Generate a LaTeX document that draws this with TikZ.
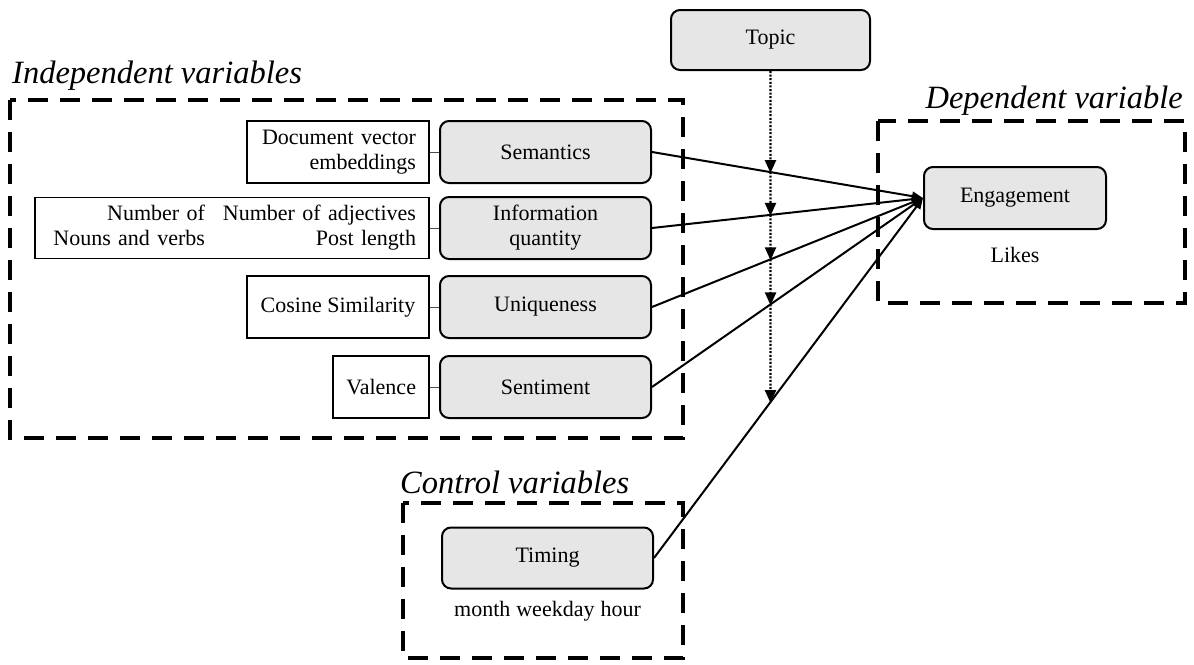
\documentclass[tikz,border=0pt]{standalone}
\usepackage{fontspec}
\setmainfont{Liberation Serif}
\usetikzlibrary{arrows.meta}
\definecolor{boxgray}{RGB}{231,230,230}
\begin{document}
\begin{tikzpicture}[x=1pt,y=-1pt,
  gbox/.style={draw=black, line width=2pt, rounded corners=9pt, fill=boxgray,
    minimum width=211pt, minimum height=62pt, align=center, inner sep=0pt,
    font=\fontsize{22}{25}\selectfont},
  wbox/.style={draw=black, line width=1.3pt, minimum height=62pt, inner xsep=13pt, inner ysep=0pt,
    align=right, font=\fontsize{22}{25}\selectfont},
  plain/.style={font=\fontsize{22}{25}\selectfont, inner sep=0pt},
  title/.style={font=\fontsize{32.5}{35}\selectfont\itshape, inner sep=0pt},
  group/.style={draw=black, line width=4pt, dash pattern=on 20pt off 12pt},
  link/.style={line width=1pt, draw=black!70},
  arr/.style={line width=2pt, -{Triangle[length=11pt,width=9pt]}},
  dotarr/.style={line width=2.2pt, dash pattern=on 2pt off 1.6pt, -{Triangle[length=13pt,width=11pt]}, shorten >=-1pt}
]
\useasboundingbox (0,0) rectangle (1194,664);

% group frames
\draw[group] (10,100) rectangle (683,438);
\draw[group] (878,121) rectangle (1185,303);
\draw[group] (403,503) rectangle (683,658);

% titles
\node[title, anchor=base west] (tind) at (12,83) {Independent variables};
\node[title, anchor=base east] (tdep) at (1183,108) {Dependent variable};
\node[title, anchor=base west] (tctl) at (400,493) {Control variables};

% gray boxes
\node[gbox] (sem) at (545.5,152) {Semantics};
\node[gbox] (info) at (545.5,228) {Information\\quantity};
\node[gbox] (uniq) at (545.5,307) {Uniqueness};
\node[gbox] (sent) at (545.5,387) {Sentiment};
\node[gbox, minimum width=199pt, minimum height=60pt] (topic) at (770.5,40) {Topic};
\node[gbox, minimum width=182pt] (eng) at (1015,198) {Engagement};
\node[gbox, minimum height=61pt] (timing) at (547.5,558) {Timing};

% white boxes
\node[wbox, minimum width=182pt, text width=156pt] (doc) at (338,152) {Document vector\\embeddings};
\node[wbox, minimum width=394pt, text width=368pt, minimum height=61pt] (num) at (232,228)
  {\begin{tabular}{@{}r@{\hspace{18pt}}r@{}}Number of & Number of adjectives\\ Nouns and verbs & Post length\end{tabular}};
\node[wbox, minimum width=182pt, inner xsep=4pt] (cos) at (338,307) {Cosine Similarity};
\node[wbox, minimum width=96pt, text width=70pt] (val) at (381,387) {Valence};

% labels
\node[plain] (likes) at (1015,255) {Likes};
\node[plain] (mwh) at (547.5,611) {month\hspace{6pt}weekday\hspace{6pt}hour};

% small links
\draw[link] (doc.east) -- (sem.west);
\draw[link] (num.east) -- (info.west);
\draw[link] (cos.east) -- (uniq.west);
\draw[link] (val.east) -- (sent.west);

% main arrows
\draw[arr] (sem.east) -- (eng.west);
\draw[arr] (info.east) -- (eng.west);
\draw[arr] (uniq.east) -- (eng.west);
\draw[arr] (sent.east) -- (eng.west);
\draw[arr] (timing.east) -- (eng.west);

% topic dotted line
\coordinate (tb) at ([yshift=600pt]topic.south);
\coordinate (i1) at (intersection of sem.east--eng.west and topic.south--tb);
\coordinate (i2) at (intersection of info.east--eng.west and topic.south--tb);
\coordinate (i3) at (intersection of uniq.east--eng.west and topic.south--tb);
\coordinate (i4) at (intersection of sent.east--eng.west and topic.south--tb);
\coordinate (i5) at (intersection of timing.east--eng.west and topic.south--tb);
\draw[dotarr] (topic.south) -- (i1);
\draw[dotarr] (i1) -- (i2);
\draw[dotarr] (i2) -- (i3);
\draw[dotarr] (i3) -- (i4);
\draw[dotarr] (i4) -- (i5);
\end{tikzpicture}
\end{document}
